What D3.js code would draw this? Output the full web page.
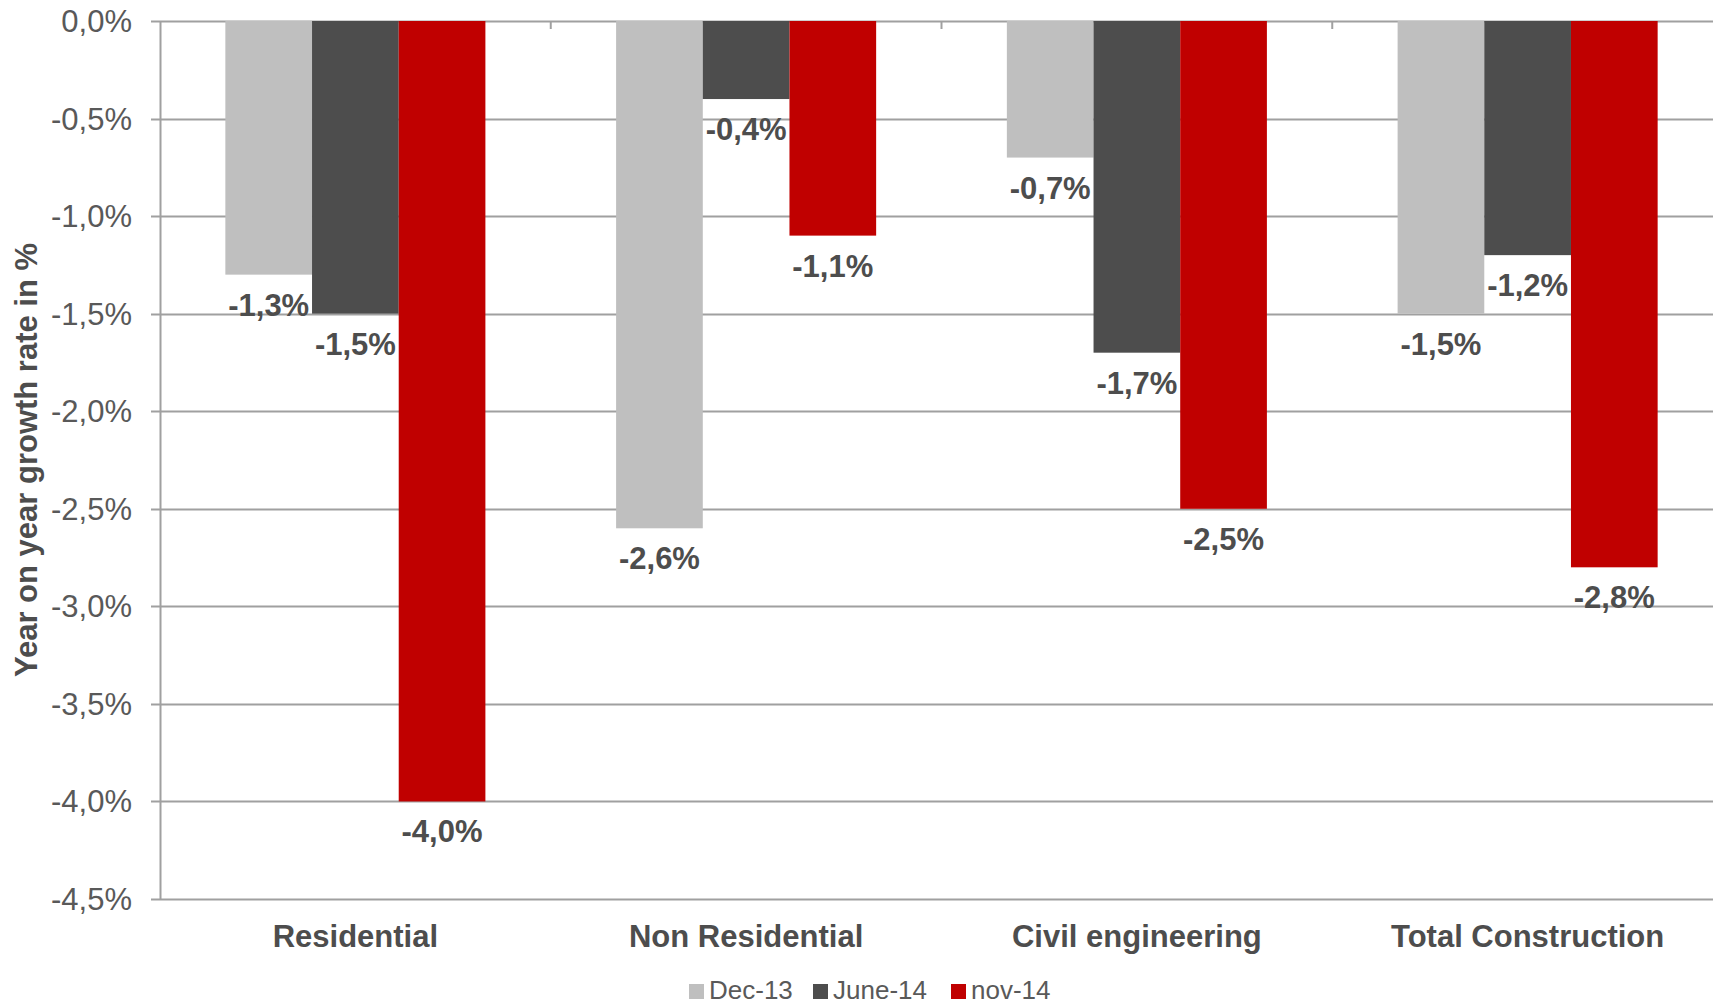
<!DOCTYPE html>
<html>
<head>
<meta charset="utf-8">
<script src="https://cdn.jsdelivr.net/npm/d3@7"></script>
<style>
  html, body { margin: 0; padding: 0; background: #fff; overflow: hidden; }
  svg { display: block; font-family: "Liberation Sans", Arial, sans-serif; }
</style>
</head>
<body>
<svg id="chart" width="1713" height="1004"></svg>
<script>
// ── data ──────────────────────────────────────────────────────────────────────
const categories = ['Residential', 'Non Residential', 'Civil engineering', 'Total Construction'];
const seriesNames = ['Dec-13', 'June-14', 'nov-14'];
const dec13  = [-1.3, -2.6, -0.7, -1.5];
const june14 = [-1.5, -0.4, -1.7, -1.2];
const nov14  = [-4.0, -1.1, -2.5, -2.8];
const yTicks = [0, -0.5, -1, -1.5, -2, -2.5, -3, -3.5, -4, -4.5];

const SERIES_COLOR = { 'Dec-13': '#bfbfbf', 'June-14': '#4d4d4d', 'nov-14': '#c00000' };
const seriesValues = [dec13, june14, nov14];

// ── layout ────────────────────────────────────────────────────────────────────
const svg = d3.select('#chart');

const y = d3.scaleLinear().domain([-4.5, 0]).range([899, 21]);
const x0 = d3.scaleBand().domain(categories).range([160, 1723]);
const x1 = d3.scaleBand().domain(seriesNames).range([0, x0.bandwidth()]).paddingOuter(0.754);

const locale = d3.formatLocale({ decimal: ',', thousands: '.', grouping: [3], currency: ['', ''], minus: '-' });
const fmt = locale.format('.1f');

// gridlines
svg.append('g')
  .selectAll('line')
  .data(yTicks)
  .join('line')
  .attr('x1', 151)
  .attr('x2', 1713)
  .attr('y1', d => Math.round(y(d)) + 0.5)
  .attr('y2', d => Math.round(y(d)) + 0.5)
  .attr('stroke', '#a0a0a0')
  .attr('stroke-width', 2);

// y tick labels
svg.append('g')
  .selectAll('text')
  .data(yTicks)
  .join('text')
  .attr('x', 132)
  .attr('y', d => y(d) + 11)
  .attr('text-anchor', 'end')
  .attr('font-size', 31)
  .attr('fill', '#595959')
  .text(d => fmt(d) + '%');

// category ticks at the top (zero line)
svg.append('g')
  .selectAll('line')
  .data(categories.slice(1))
  .join('line')
  .attr('x1', d => x0(d))
  .attr('x2', d => x0(d))
  .attr('y1', y(0))
  .attr('y2', y(0) + 8)
  .attr('stroke', '#a0a0a0')
  .attr('stroke-width', 2);

// bars
const groups = svg.append('g')
  .selectAll('g')
  .data(categories)
  .join('g')
  .attr('transform', d => `translate(${x0(d)},0)`);

groups.selectAll('rect')
  .data((c, i) => seriesNames.map((s, k) => ({ series: s, value: seriesValues[k][i] })))
  .join('rect')
  .attr('x', d => x1(d.series))
  .attr('y', y(0))
  .attr('width', x1.bandwidth())
  .attr('height', d => y(d.value) - y(0))
  .attr('fill', d => SERIES_COLOR[d.series]);

// data labels
groups.selectAll('text')
  .data((c, i) => seriesNames.map((s, k) => ({ series: s, value: seriesValues[k][i] })))
  .join('text')
  .attr('x', d => x1(d.series) + x1.bandwidth() / 2)
  .attr('y', d => y(d.value) + 41)
  .attr('text-anchor', 'middle')
  .attr('font-size', 31)
  .attr('font-weight', 'bold')
  .attr('fill', '#4d4d4d')
  .text(d => fmt(d.value) + '%');

// y axis line
svg.append('line')
  .attr('x1', 160.5).attr('x2', 160.5)
  .attr('y1', y(0)).attr('y2', y(-4.5) + 1)
  .attr('stroke', '#a0a0a0')
  .attr('stroke-width', 2);

// category labels
svg.append('g')
  .selectAll('text')
  .data(categories)
  .join('text')
  .attr('x', d => x0(d) + x0.bandwidth() / 2)
  .attr('y', 947)
  .attr('text-anchor', 'middle')
  .attr('font-size', 31)
  .attr('font-weight', 'bold')
  .attr('fill', '#4d4d4d')
  .text(d => d);

// y axis title
svg.append('text')
  .attr('transform', 'translate(37,460) rotate(-90)')
  .attr('text-anchor', 'middle')
  .attr('font-size', 31)
  .attr('font-weight', 'bold')
  .attr('fill', '#4d4d4d')
  .text('Year on year growth rate in %');

// legend
const legendX = [689, 813, 951];
const legend = svg.append('g')
  .selectAll('g')
  .data(seriesNames)
  .join('g')
  .attr('transform', (d, i) => `translate(${legendX[i]},0)`);

legend.append('rect')
  .attr('x', 0).attr('y', 984)
  .attr('width', 15).attr('height', 15)
  .attr('fill', d => SERIES_COLOR[d]);

legend.append('text')
  .attr('x', 20).attr('y', 999)
  .attr('font-size', 26)
  .attr('fill', '#595959')
  .text(d => d);
</script>
</body>
</html>
